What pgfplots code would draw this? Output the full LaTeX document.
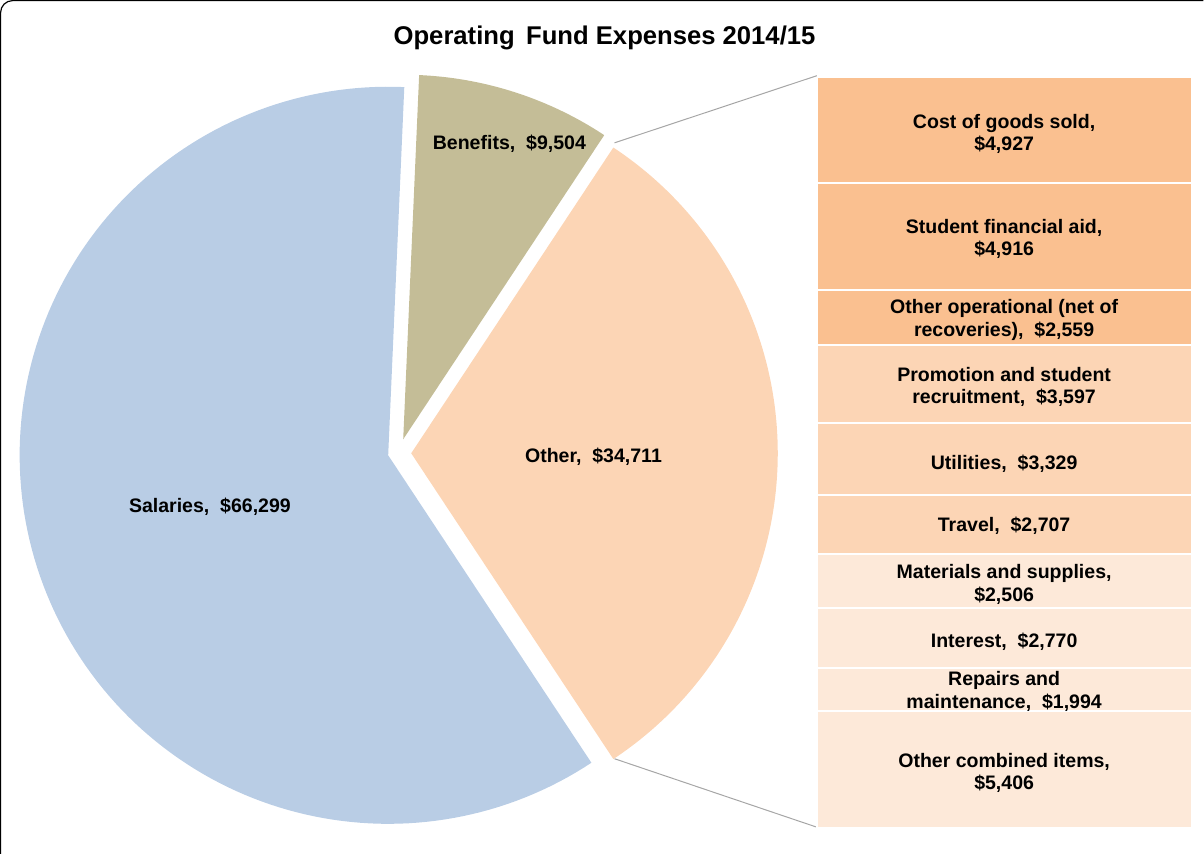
\documentclass[border=0pt]{standalone}
\usepackage{pgfplots}
\pgfplotsset{compat=1.18}
\usepackage{fontspec}
\setmainfont{Liberation Sans}

\definecolor{salcol}{HTML}{B9CDE5}
\definecolor{bencol}{HTML}{C4BD97}
\definecolor{othcol}{HTML}{FCD5B5}
\definecolor{bardark}{HTML}{FAC090}
\definecolor{barmid}{HTML}{FCD5B5}
\definecolor{barlight}{HTML}{FDE9D9}
\newcommand\lab{\fontsize{9.75}{11.2}\selectfont\bfseries}

\begin{document}
\begin{tikzpicture}
% pie shares (values in $ thousands to stay inside pgfmath range)
\pgfmathsetmacro\tot{66.299+9.504+34.711}
\pgfmathsetmacro\hoth{34.711/\tot*180}
\pgfmathsetmacro\benend{\hoth+9.504/\tot*360}
\pgfmathsetmacro\salend{360-\hoth}

% breakdown of "Other" as a stacked column
\begin{axis}[
    at={(409pt,13pt)}, anchor=south west,
    scale only axis, width=187.5pt, height=375pt,
    xmin=0, xmax=1, ymin=0, ymax=34711,
    axis lines=none,
    ybar stacked, bar width=1,
    every axis plot/.append style={draw=white, line width=1pt},
]
\addplot[fill=barlight] coordinates {(0.5,5406)};
\addplot[fill=barlight] coordinates {(0.5,1994)};
\addplot[fill=barlight] coordinates {(0.5,2770)};
\addplot[fill=barlight] coordinates {(0.5,2506)};
\addplot[fill=barmid] coordinates {(0.5,2707)};
\addplot[fill=barmid] coordinates {(0.5,3329)};
\addplot[fill=barmid] coordinates {(0.5,3597)};
\addplot[fill=bardark] coordinates {(0.5,2559)};
\addplot[fill=bardark] coordinates {(0.5,4916)};
\addplot[fill=bardark] coordinates {(0.5,4927)};
\end{axis}

% canvas axis in pixel units (1px = 0.5pt)
\begin{axis}[
    at={(0,0)}, anchor=south west,
    scale only axis, width=602pt, height=428pt,
    xmin=0, xmax=1204, ymin=0, ymax=856,
    axis lines=none, clip=false,
    samples=150,
]
\draw[black, line width=0.6pt, rounded corners=6pt]
    (axis cs:3,0) -- (axis cs:3,852) -- (axis cs:1204,852);

\addplot[fill=salcol, draw=none, domain=\benend:\salend, variable=\t]
    ({390+368*cos(\t)}, {398+368*sin(\t)}) -- (axis cs:390,398) -- cycle;
\addplot[fill=bencol, draw=none, domain=\hoth:\benend, variable=\t]
    ({405+364*cos(\t)}, {414+364*sin(\t)}) -- (axis cs:405,414) -- cycle;
\addplot[fill=othcol, draw=none, domain=-\hoth:\hoth, variable=\t]
    ({413+366*cos(\t)}, {400+366*sin(\t)}) -- (axis cs:413,400) -- cycle;

\draw[gray!70, line width=0.5pt] (axis cs:616,710) -- (axis cs:818,777);
\draw[gray!70, line width=0.5pt] (axis cs:616,95) -- (axis cs:817,27);

\node[font=\fontsize{12.8}{14}\selectfont\bfseries] at (axis cs:606,815)
    {Operating\ \,Fund Expenses 2014/15};

\node[font=\lab] at (axis cs:212,347) {Salaries,~ \$66,299};
\node[font=\lab] at (axis cs:511,709) {Benefits,~ \$9,504};
\node[font=\lab] at (axis cs:595,397) {Other,~ \$34,711};

\node[font=\lab, align=center] at (axis cs:1005,719) {Cost of goods sold,\\\$4,927};
\node[font=\lab, align=center] at (axis cs:1005,614) {Student financial aid,\\\$4,916};
\node[font=\lab, align=center] at (axis cs:1005,533) {Other operational (net of\\recoveries),~ \$2,559};
\node[font=\lab, align=center] at (axis cs:1005,466) {Promotion and student\\recruitment,~ \$3,597};
\node[font=\lab, align=center] at (axis cs:1005,390) {Utilities,~ \$3,329};
\node[font=\lab, align=center] at (axis cs:1005,328) {Travel,~ \$2,707};
\node[font=\lab, align=center] at (axis cs:1005,269) {Materials and supplies,\\\$2,506};
\node[font=\lab, align=center] at (axis cs:1005,212) {Interest,~ \$2,770};
\node[font=\lab, align=center] at (axis cs:1005,162) {Repairs and\\maintenance,~ \$1,994};
\node[font=\lab, align=center] at (axis cs:1005,81) {Other combined items,\\\$5,406};
\end{axis}
\end{tikzpicture}
\end{document}
